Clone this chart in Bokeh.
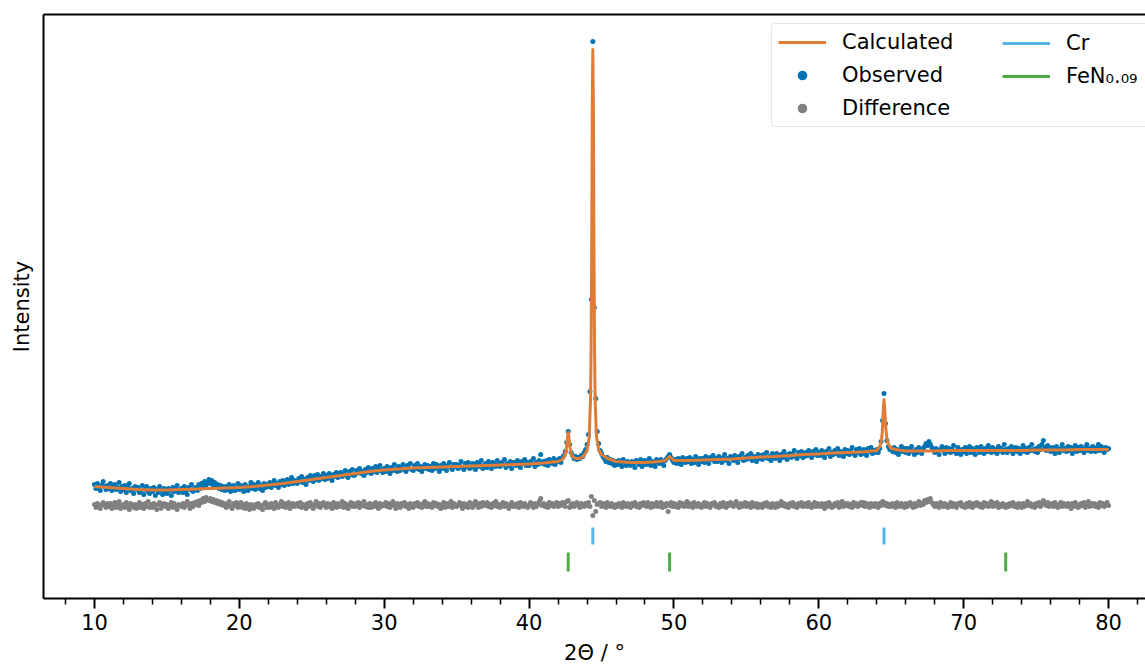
import numpy as np
from bokeh.plotting import figure
from bokeh.models import Range1d, LinearAxis, FixedTicker, Legend, LegendItem
from bokeh.embed import file_html
from bokeh.resources import INLINE

# ---------------- data (intensity in arbitrary units) ----------------
two_theta_start = 10.0
two_theta_step = 0.1

# observed intensity, one line per degree (10.0 ... 80.0 in 0.1 deg steps)
observed = [
    115, 111, 116, 112, 109, 114, 118, 113, 110, 114,
    111, 116, 109, 113, 115, 110, 112, 117, 108, 113,
    110, 114, 107, 112, 116, 109, 111, 106, 113, 110,
    112, 107, 109, 114, 105, 110, 113, 108, 106, 111,
    108, 112, 104, 110, 107, 113, 109, 105, 111, 108,
    106, 111, 109, 104, 112, 108, 110, 114, 107, 109,
    111, 107, 113, 109, 105, 112, 110, 115, 108, 111,
    112, 109, 115, 111, 116, 113, 118, 114, 117, 120,
    116, 119, 114, 117, 113, 115, 111, 114, 110, 113,
    109, 113, 110, 115, 108, 112, 114, 109, 111, 116,
    110, 114, 111, 108, 115, 112, 109, 113, 117, 111,
    115, 110, 113, 117, 111, 114, 109, 116, 112, 115,
    113, 117, 112, 115, 119, 114, 116, 112, 118, 115,
    119, 114, 117, 120, 115, 118, 122, 116, 119, 117,
    116, 121, 118, 123, 117, 120, 115, 122, 119, 124,
    122, 118, 124, 120, 125, 119, 123, 121, 126, 120,
    124, 121, 126, 122, 119, 125, 123, 127, 122, 126,
    127, 123, 125, 129, 124, 122, 128, 125, 130, 124,
    125, 129, 127, 131, 126, 128, 124, 130, 127, 132,
    130, 126, 131, 128, 133, 127, 130, 134, 129, 127,
    131, 128, 133, 130, 126, 132, 129, 135, 130, 128,
    133, 129, 131, 135, 130, 128, 134, 131, 136, 130,
    129, 134, 131, 136, 130, 133, 128, 132, 135, 131,
    134, 130, 133, 129, 136, 131, 135, 132, 128, 134,
    131, 136, 133, 129, 134, 137, 132, 130, 135, 133,
    135, 131, 134, 138, 132, 130, 136, 133, 137, 131,
    132, 136, 134, 130, 137, 133, 135, 139, 131, 134,
    136, 132, 138, 134, 131, 137, 135, 133, 139, 136,
    133, 137, 135, 140, 132, 136, 134, 138, 131, 137,
    137, 134, 139, 135, 132, 138, 136, 140, 134, 137,
    134, 138, 136, 141, 133, 137, 135, 139, 145, 136,
    138, 135, 139, 134, 140, 137, 136, 141, 135, 139,
    138, 141, 137, 142, 144, 148, 157, 168, 155, 147,
    144, 141, 143, 140, 142, 141, 144, 143, 147, 150,
    155, 165, 208, 300, 558, 292, 201, 168, 156, 149,
    146, 143, 141, 138, 142, 137, 140, 136, 139, 134,
    138, 135, 139, 136, 133, 140, 137, 134, 138, 135,
    134, 138, 136, 132, 139, 137, 135, 140, 133, 137,
    139, 135, 137, 141, 134, 138, 136, 133, 140, 137,
    136, 140, 137, 134, 139, 141, 143, 145, 142, 139,
    137, 140, 136, 141, 138, 135, 142, 139, 137, 141,
    138, 142, 136, 140, 137, 143, 139, 135, 141, 138,
    141, 137, 143, 139, 136, 142, 140, 144, 138, 141,
    138, 143, 140, 137, 142, 145, 139, 141, 136, 143,
    142, 139, 144, 140, 137, 143, 141, 146, 139, 142,
    140, 144, 141, 146, 139, 143, 142, 138, 145, 141,
    144, 140, 145, 142, 147, 141, 143, 139, 146, 142,
    141, 146, 143, 139, 145, 142, 148, 144, 140, 145,
    146, 142, 145, 149, 143, 141, 147, 144, 148, 142,
    143, 147, 144, 149, 146, 142, 148, 145, 150, 144,
    147, 144, 149, 145, 142, 148, 146, 151, 143, 147,
    145, 149, 146, 151, 144, 148, 147, 143, 150, 146,
    149, 145, 148, 152, 146, 144, 150, 147, 151, 145,
    146, 150, 147, 144, 151, 148, 152, 146, 149, 147,
    150, 147, 151, 158, 179, 206, 176, 159, 153, 150,
    151, 148, 152, 147, 150, 145, 149, 153, 148, 151,
    147, 151, 146, 150, 153, 148, 145, 150, 147, 152,
    149, 146, 151, 153, 156, 154, 158, 155, 152, 150,
    147, 151, 148, 145, 150, 153, 149, 146, 152, 148,
    151, 147, 150, 154, 148, 146, 152, 149, 145, 150,
    148, 152, 146, 150, 153, 147, 151, 149, 145, 152,
    150, 147, 153, 149, 146, 151, 148, 154, 150, 147,
    152, 148, 150, 146, 153, 149, 151, 147, 155, 150,
    147, 151, 149, 153, 146, 150, 152, 148, 151, 146,
    150, 154, 148, 151, 147, 152, 149, 155, 150, 148,
    151, 147, 153, 150, 155, 159, 152, 149, 154, 150,
    148, 152, 149, 146, 153, 150, 147, 151, 155, 149,
    151, 148, 153, 149, 152, 146, 150, 154, 148, 152,
    149, 153, 150, 147, 152, 155, 149, 151, 148, 153,
    152, 148, 151, 155, 149, 153, 150, 147, 152, 150,
    151,
]

# difference curve (observed - calculated, shifted), same 2theta grid
difference = [
    95, 92, 96, 93, 91, 95, 97, 94, 92, 96,
    93, 96, 91, 94, 97, 92, 95, 98, 91, 94,
    95, 92, 97, 93, 90, 96, 94, 92, 95, 91,
    94, 97, 92, 95, 91, 96, 93, 98, 92, 95,
    92, 96, 93, 90, 95, 97, 91, 94, 96, 93,
    95, 91, 94, 97, 92, 96, 93, 90, 95, 94,
    93, 96, 92, 95, 98, 94, 91, 96, 93, 97,
    95, 98, 94, 99, 97, 101, 98, 102, 100, 99,
    101, 98, 100, 97, 99, 96, 98, 95, 97, 94,
    96, 92, 95, 98, 93, 91, 96, 94, 97, 92,
    94, 97, 92, 95, 91, 96, 93, 90, 95, 93,
    91, 95, 93, 96, 92, 94, 90, 95, 97, 92,
    95, 92, 96, 93, 91, 97, 94, 92, 95, 98,
    93, 96, 92, 95, 97, 91, 94, 96, 93, 95,
    96, 93, 97, 92, 95, 94, 91, 96, 93, 97,
    94, 91, 95, 98, 93, 96, 92, 95, 97, 94,
    92, 96, 93, 95, 91, 97, 94, 92, 96, 93,
    95, 98, 92, 96, 94, 91, 95, 97, 93, 96,
    93, 95, 97, 92, 96, 94, 98, 93, 95, 92,
    96, 92, 95, 93, 97, 94, 91, 96, 93, 95,
    94, 97, 93, 96, 92, 95, 98, 94, 91, 96,
    95, 92, 96, 94, 97, 93, 95, 91, 96, 94,
    92, 96, 94, 97, 93, 95, 92, 96, 98, 93,
    96, 93, 95, 92, 97, 94, 96, 93, 95, 91,
    94, 97, 92, 96, 93, 95, 98, 92, 96, 94,
    93, 95, 97, 94, 91, 96, 93, 95, 92, 97,
    96, 92, 95, 98, 94, 92, 96, 93, 97, 95,
    94, 97, 93, 95, 92, 96, 94, 98, 93, 95,
    92, 95, 97, 93, 96, 94, 91, 95, 97, 93,
    95, 93, 96, 92, 97, 95, 93, 96, 94, 92,
    94, 97, 95, 92, 96, 93, 95, 98, 101, 94,
    96, 93, 95, 92, 97, 94, 96, 93, 95, 97,
    93, 96, 94, 97, 95, 93, 98, 99, 92, 95,
    96, 93, 95, 97, 94, 92, 96, 95, 93, 96,
    94, 97, 93, 103, 84, 99, 88, 95, 96, 97,
    93, 96, 94, 92, 97, 95, 93, 96, 94, 92,
    95, 93, 96, 94, 92, 97, 95, 93, 96, 94,
    92, 96, 94, 97, 93, 95, 92, 96, 94, 97,
    95, 93, 97, 94, 92, 96, 93, 95, 97, 93,
    94, 97, 92, 95, 93, 96, 88, 94, 97, 93,
    96, 93, 95, 92, 97, 94, 96, 93, 95, 98,
    93, 96, 94, 92, 97, 95, 93, 96, 94, 92,
    95, 97, 93, 96, 94, 92, 96, 95, 97, 93,
    94, 92, 96, 93, 97, 95, 92, 96, 94, 97,
    96, 93, 95, 98, 94, 92, 96, 93, 95, 97,
    93, 96, 94, 92, 97, 95, 93, 96, 92, 95,
    95, 92, 96, 94, 97, 93, 95, 92, 96, 94,
    92, 96, 93, 95, 98, 94, 96, 93, 95, 92,
    96, 94, 97, 93, 95, 92, 96, 94, 97, 93,
    94, 96, 93, 97, 94, 92, 95, 97, 93, 96,
    95, 93, 96, 94, 91, 96, 93, 97, 95, 92,
    93, 96, 94, 97, 92, 95, 98, 93, 96, 94,
    96, 93, 95, 92, 97, 94, 96, 93, 95, 97,
    94, 97, 93, 96, 94, 92, 96, 95, 93, 96,
    95, 92, 96, 94, 98, 97, 94, 96, 93, 95,
    93, 96, 94, 92, 97, 95, 93, 96, 94, 92,
    96, 93, 95, 97, 94, 92, 96, 93, 95, 98,
    94, 96, 95, 99, 97, 100, 98, 101, 97, 95,
    93, 96, 94, 92, 97, 95, 93, 96, 94, 92,
    95, 97, 93, 96, 94, 92, 96, 95, 97, 93,
    94, 92, 96, 93, 97, 95, 92, 96, 94, 97,
    96, 93, 95, 92, 97, 94, 96, 93, 95, 98,
    93, 96, 94, 97, 92, 95, 93, 96, 94, 92,
    95, 93, 96, 94, 97, 93, 95, 92, 96, 94,
    92, 96, 93, 95, 98, 94, 96, 93, 95, 92,
    96, 94, 97, 93, 95, 99, 96, 94, 97, 93,
    94, 96, 93, 97, 94, 92, 95, 97, 93, 96,
    95, 93, 96, 94, 91, 96, 93, 97, 95, 92,
    93, 96, 94, 97, 92, 95, 98, 93, 96, 94,
    96, 93, 95, 92, 97, 94, 96, 93, 95, 97,
    94,
]

# calculated profile
calc_x = [10, 11, 12, 13, 14, 15, 16, 17, 18, 19, 20, 21, 22, 23, 24, 25,
          26, 27, 28, 29, 30, 31, 32, 33, 34, 35, 36, 37, 38, 39, 40, 41, 42,
          42.3, 42.5, 42.58, 42.64, 42.7, 42.76, 42.82, 42.9, 43.0, 43.2, 43.5,
          43.8, 44.0, 44.15, 44.24, 44.28, 44.32, 44.36, 44.4, 44.44, 44.48,
          44.52, 44.56, 44.65, 44.8, 45.0, 45.4, 46, 47, 48, 49, 49.4, 49.55,
          49.7, 49.85, 50, 51, 52, 53, 54, 55, 56, 57, 58, 59, 60, 61, 62, 63,
          64, 64.2, 64.3, 64.38, 64.45, 64.5, 64.55, 64.62, 64.7, 64.8, 65,
          65.5, 66, 67, 68, 69, 70, 71, 72, 73, 74, 75, 76, 77, 78, 79, 80]
calc_y = [113, 112, 111, 110, 109.5, 109.5, 110, 110.5, 111, 111.5, 112, 113,
          114.5, 116, 118, 120, 122, 124, 126, 128, 129.5, 130.5, 131.5, 132,
          132.5, 133, 133.5, 134, 134.5, 135, 135.5, 136.5, 138,
          140, 145, 152, 161, 167, 161, 152, 146, 143, 141, 141,
          144, 149, 162, 200, 250, 345, 490, 550, 490, 345,
          250, 200, 163, 150, 145, 141, 138, 137, 137, 138, 139, 141,
          143, 141, 139, 139, 139.5, 140, 140.5, 141.5, 142.5, 143, 144, 145,
          145.5, 146.5, 147, 147.5,
          149, 153, 157, 167, 190, 200, 190, 172, 161, 155, 151,
          149.5, 148.5, 148.5, 148.5, 149, 149, 149, 149, 149, 149, 149.5,
          149.5, 149.5, 150, 150, 150]

# reflection positions
cr_positions = [44.4, 64.5]
fen_positions = [42.7, 49.7, 72.9]

x_ticks = [10, 20, 30, 40, 50, 60, 70, 80]
x_minor_ticks = [8, 12, 14, 16, 18, 22, 24, 26, 28, 32, 34, 36, 38, 42, 44, 46,
                 48, 52, 54, 56, 58, 62, 64, 66, 68, 72, 74, 76, 78, 82]

# ---------------- plot ----------------
obs_x = [round(two_theta_start + two_theta_step * i, 2) for i in range(len(observed))]
diff_x = [round(two_theta_start + two_theta_step * i, 2) for i in range(len(difference))]

FONT = "DejaVu Sans"
C_CALC = "#e17c36"
C_OBS = "#0173b2"
C_DIFF = "#808080"
C_CR = "#56b4e9"
C_FEN = "#4dac48"

p = figure(width=1145, height=670, output_backend="svg", toolbar_location=None,
           x_range=Range1d(6.48, 82.55), y_range=Range1d(1, 585),
           min_border_left=43, min_border_right=0, min_border_top=14,
           min_border_bottom=72)
p.outline_line_color = None
p.xgrid.visible = False
p.ygrid.visible = False
p.background_fill_color = "white"
p.border_fill_color = "white"

r_diff = p.scatter(diff_x, difference, size=5, fill_color=C_DIFF, line_color=None)
r_obs = p.scatter(obs_x, observed, size=5, fill_color=C_OBS, line_color=None)
r_calc = p.line(calc_x, calc_y, line_width=3, line_color=C_CALC, line_join="round")
r_cr = p.segment(x0=cr_positions, y0=[55] * len(cr_positions),
                 x1=cr_positions, y1=[72] * len(cr_positions),
                 line_width=3, line_color=C_CR)
r_fen = p.segment(x0=fen_positions, y0=[28] * len(fen_positions),
                  x1=fen_positions, y1=[47] * len(fen_positions),
                  line_width=3, line_color=C_FEN)

# bottom axis
xa = p.xaxis[0]
xa.ticker = FixedTicker(ticks=x_ticks, minor_ticks=x_minor_ticks)
xa.axis_label = "2Θ / °"
xa.axis_line_width = 2
xa.major_tick_line_width = 2
xa.minor_tick_line_width = 1.5
xa.major_tick_out = 10
xa.major_tick_in = 0
xa.minor_tick_out = 6
xa.minor_tick_in = 0
xa.major_label_text_font = FONT
xa.major_label_text_font_size = "21px"
xa.major_label_text_color = "black"
xa.major_label_standoff = 5
xa.axis_label_text_font = FONT
xa.axis_label_text_font_size = "21px"
xa.axis_label_text_font_style = "normal"
xa.axis_label_text_color = "black"
xa.axis_label_standoff = 8

# left axis
ya = p.yaxis[0]
ya.ticker = FixedTicker(ticks=[])
ya.axis_label = "Intensity"
ya.axis_line_width = 2
ya.major_tick_out = 0
ya.major_tick_in = 0
ya.minor_tick_out = 0
ya.minor_tick_in = 0
ya.major_label_text_font_size = "0px"
ya.axis_label_text_font = FONT
ya.axis_label_text_font_size = "21px"
ya.axis_label_text_font_style = "normal"
ya.axis_label_text_color = "black"
ya.axis_label_standoff = 10

# top spine
top = LinearAxis(ticker=FixedTicker(ticks=[]), axis_line_width=2,
                 major_tick_out=0, major_tick_in=0, minor_tick_out=0,
                 minor_tick_in=0, major_label_text_font_size="0px")
p.add_layout(top, "above")

# legends
leg_common = dict(label_text_font=FONT, label_text_font_size="21px",
                  label_text_color="black", glyph_width=48, glyph_height=24,
                  label_height=24, label_standoff=16, padding=6, spacing=9,
                  margin=0)
leg1 = Legend(items=[LegendItem(label="Calculated", renderers=[r_calc]),
                     LegendItem(label="Observed", renderers=[r_obs]),
                     LegendItem(label="Difference", renderers=[r_diff])],
              location=(728, 471), label_width=330,
              border_line_color="#cccccc", border_line_width=1.5,
              border_radius=4, background_fill_alpha=0.85, **leg_common)
leg2 = Legend(items=[LegendItem(label="Cr", renderers=[r_cr]),
                     LegendItem(label="FeN₀.₀₉", renderers=[r_fen])],
              location=(953, 504), border_line_alpha=0,
              background_fill_alpha=0, **leg_common)
p.add_layout(leg1, "center")
p.add_layout(leg2, "center")

open("out.html", "w").write(file_html(p, INLINE))
